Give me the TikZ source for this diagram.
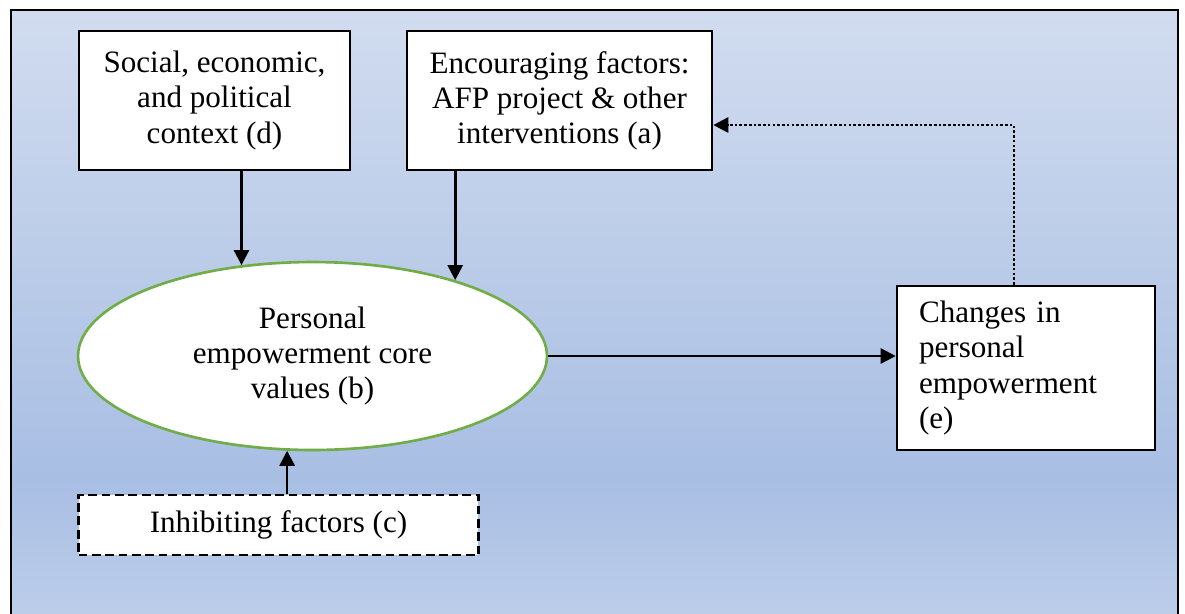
\documentclass[tikz,border=0pt]{standalone}
\usepackage{fontspec}
\setmainfont{Liberation Serif}
\usetikzlibrary{arrows.meta,shapes.geometric}

\definecolor{bgtop}{HTML}{D1DCEF}
\definecolor{bgmid}{HTML}{A8BEE3}
\definecolor{bgbot}{HTML}{BFCFEA}
\definecolor{coregreen}{HTML}{70AD47}

\tikzset{
  box/.style={draw=black, line width=1.5pt, fill=white, align=center,
    inner sep=0pt, font=\fontsize{17.7}{20}\selectfont},
  arr/.style={line width=1.5pt, -{Triangle[length=0.3cm,width=0.3cm]}},
}

\begin{document}
\begin{tikzpicture}[x=0.02cm,y=-0.02cm]
  \useasboundingbox (0,0) rectangle (1185,613);
  \clip (0,0) rectangle (1185,613);

  % Background frame
  \shade [top color=bgtop, bottom color=bgmid] (11,10) rectangle (1178,480);
  \shade [top color=bgmid, bottom color=bgbot] (11,480) rectangle (1178,630);
  \draw [line width=1.5pt] (11,630) -- (11,10) -- (1178,10) -- (1178,630);

  % Context box (d)
  \node [box, minimum width=5.42cm, minimum height=2.78cm] (ctx) at (214.5,100.5)
    {Social, economic,\\and political\\context (d)};

  % Encouraging factors box (a)
  \node [box, minimum width=6.1cm, minimum height=2.78cm] (enc) at (559.5,100.5)
    {Encouraging factors:\\AFP project \& other\\interventions (a)};

  % Core values ellipse (b)
  \node [box, ellipse, draw=coregreen, line width=1.5pt,
    minimum width=9.38cm, minimum height=3.76cm] (core) at (312.5,356)
    {Personal\\empowerment core\\values (b)};

  % Inhibiting factors box (c)
  \node [box, dash pattern=on 5pt off 2.6pt, minimum width=8cm, minimum height=1.2cm]
    (inhib) at (278.5,525) {Inhibiting factors (c)};

  % Changes box (e)
  \node [box, align=left, text width=4.28cm, inner xsep=0.44cm,
    minimum height=3.28cm] (change) at (1026,368)
    {Changes in\\personal\\empowerment\\(e)};

  % Arrows into the ellipse
  \draw [arr] (ctx.south -| core.128.6) -- (core.128.6);
  \draw [arr] (enc.south -| core.28.1) -- (core.28.1);
  \draw [arr] (inhib.north -| core.255.9) -- (core.255.9);

  % Arrow to changes
  \draw [arr] (core.east) -- (change.west |- core.east);

  % Feedback loop
  \coordinate (loop) at (1014,125);
  \draw [arr, dash pattern=on 1.5pt off 1.2pt] (change.north -| loop) -- (loop)
    -- (enc.east |- loop);
\end{tikzpicture}
\end{document}
